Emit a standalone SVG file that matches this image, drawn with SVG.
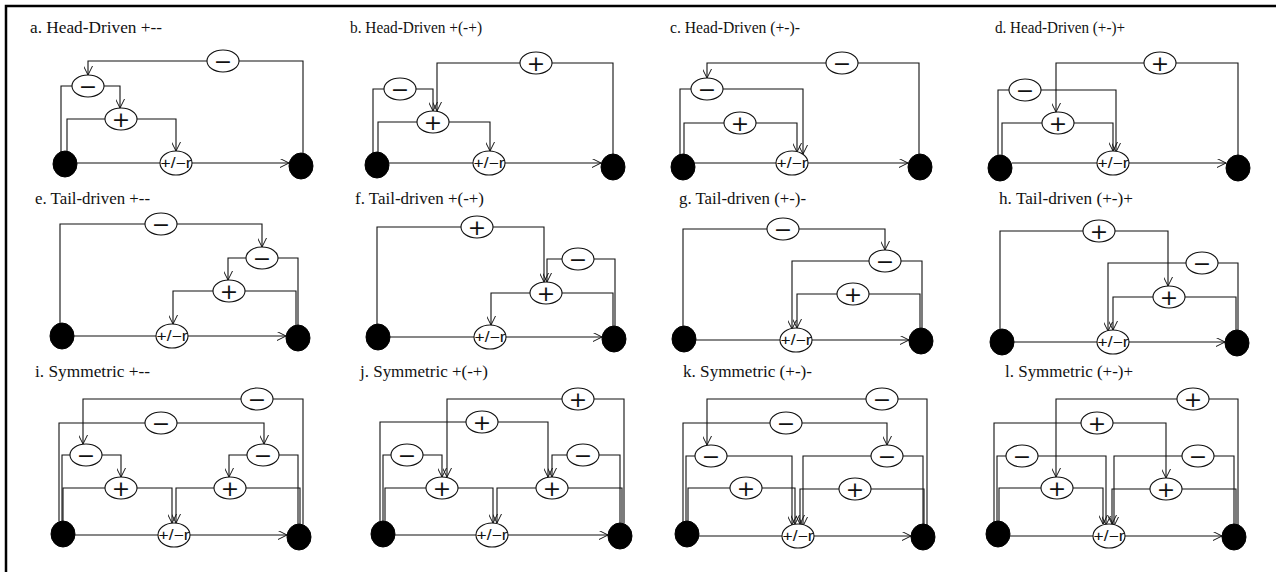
<svg xmlns="http://www.w3.org/2000/svg" width="1276" height="572" viewBox="0 0 1276 572">
<style>
.ln{fill:none;stroke:#111;stroke-width:1.1}
.ar{marker-end:url(#arr)}
.op{fill:#fff;stroke:#111;stroke-width:1.1}
.blk{fill:#000;stroke:#000}
.sym{font-family:"DejaVu Sans",sans-serif;font-size:22px;text-anchor:middle;fill:#111}
.mt{font-family:"Liberation Sans",sans-serif;font-size:14px;text-anchor:middle;fill:#111}
.tt{font-family:"Liberation Serif",serif;font-size:16px;fill:#111}
</style>
<defs>
<marker id="arr" viewBox="0 0 10 10" refX="10" refY="5" markerWidth="9" markerHeight="9" markerUnits="userSpaceOnUse" orient="auto">
<path d="M0,0 L10,5 L0,10" fill="none" stroke="#111" stroke-width="1.1"/>
</marker>
</defs>
<rect x="6" y="6" width="1290" height="590" fill="none" stroke="#000" stroke-width="2.5"/>

<g id="titles">
<text class="tt" x="30" y="33" textLength="132" lengthAdjust="spacingAndGlyphs">a. Head-Driven +--</text>
<text class="tt" x="350" y="33" textLength="132" lengthAdjust="spacingAndGlyphs">b. Head-Driven +(-+)</text>
<text class="tt" x="670" y="33" textLength="130" lengthAdjust="spacingAndGlyphs">c. Head-Driven (+-)-</text>
<text class="tt" x="995" y="33" textLength="130" lengthAdjust="spacingAndGlyphs">d. Head-Driven (+-)+</text>
<text class="tt" x="35" y="204" textLength="115" lengthAdjust="spacingAndGlyphs">e. Tail-driven +--</text>
<text class="tt" x="355" y="204" textLength="129" lengthAdjust="spacingAndGlyphs">f. Tail-driven +(-+)</text>
<text class="tt" x="679" y="204" textLength="127" lengthAdjust="spacingAndGlyphs">g. Tail-driven (+-)-</text>
<text class="tt" x="999" y="204" textLength="134" lengthAdjust="spacingAndGlyphs">h. Tail-driven (+-)+</text>
<text class="tt" x="35" y="377" textLength="115" lengthAdjust="spacingAndGlyphs">i. Symmetric +--</text>
<text class="tt" x="360" y="377" textLength="128" lengthAdjust="spacingAndGlyphs">j. Symmetric +(-+)</text>
<text class="tt" x="683" y="377" textLength="129" lengthAdjust="spacingAndGlyphs">k. Symmetric (+-)-</text>
<text class="tt" x="1005" y="377" textLength="128" lengthAdjust="spacingAndGlyphs">l. Symmetric (+-)+</text>
</g>

<g id="connectors">
<!-- a -->
<path class="ln" d="M303,153 V61 H239"/><path class="ln ar" d="M207,61 H88 V75"/>
<path class="ln" d="M72,86 H61 V152"/><path class="ln ar" d="M104,86 H120 V108"/>
<path class="ln" d="M105,119 H67 V152"/><path class="ln ar" d="M137,119 H176 V151"/>
<path class="ln" d="M77,163 H160"/><path class="ln ar" d="M192,163 H289"/>
<!-- b -->
<path class="ln" d="M613,154 V63 H552"/><path class="ln ar" d="M520,63 H437 V111"/>
<path class="ln" d="M384,89 H373 V153"/><path class="ln ar" d="M416,89 H433 V111"/>
<path class="ln" d="M417,122 H378 V153"/><path class="ln ar" d="M449,122 H490 V151"/>
<path class="ln" d="M389,163 H473"/><path class="ln ar" d="M505,163 H601"/>
<!-- c -->
<path class="ln" d="M919,154 V63 H858"/><path class="ln ar" d="M826,63 H707 V78"/>
<path class="ln" d="M691,89 H680 V155"/><path class="ln ar" d="M723,89 H803 V154"/>
<path class="ln" d="M724,123 H684 V155"/><path class="ln ar" d="M756,123 H797 V152"/>
<path class="ln" d="M695,163 H776"/><path class="ln ar" d="M808,163 H908"/>
<!-- d -->
<path class="ln" d="M1238,155 V63 H1176"/><path class="ln ar" d="M1144,63 H1056 V112"/>
<path class="ln" d="M1009,90 H998 V156"/><path class="ln ar" d="M1041,90 H1116 V152"/>
<path class="ln" d="M1042,123 H1002 V156"/><path class="ln ar" d="M1074,123 H1113 V151"/>
<path class="ln" d="M1012,163 H1097"/><path class="ln ar" d="M1129,163 H1226"/>
<!-- e -->
<path class="ln" d="M60,324 V224 H145"/><path class="ln ar" d="M177,224 H262 V247"/>
<path class="ln" d="M278,258 H298 V325"/><path class="ln ar" d="M246,258 H228 V280"/>
<path class="ln" d="M245,291 H296 V325"/><path class="ln ar" d="M213,291 H173 V324"/>
<path class="ln" d="M74,336 H156"/><path class="ln ar" d="M188,336 H286"/>
<!-- f -->
<path class="ln" d="M377,324 V227 H461"/><path class="ln ar" d="M493,227 H544 V282"/>
<path class="ln" d="M594,259 H615 V326"/><path class="ln ar" d="M562,259 H547 V282"/>
<path class="ln" d="M562,293 H613 V326"/><path class="ln ar" d="M530,293 H491 V325"/>
<path class="ln" d="M390,337 H474"/><path class="ln ar" d="M506,337 H602"/>
<!-- g -->
<path class="ln" d="M683,326 V229 H767"/><path class="ln ar" d="M799,229 H885 V250"/>
<path class="ln" d="M901,261 H922 V328"/><path class="ln ar" d="M869,261 H792 V329"/>
<path class="ln" d="M869,294 H920 V328"/><path class="ln ar" d="M837,294 H797 V328"/>
<path class="ln" d="M696,340 H780"/><path class="ln ar" d="M812,340 H909"/>
<!-- h -->
<path class="ln" d="M1000,329 V231 H1083"/><path class="ln ar" d="M1115,231 H1168 V286"/>
<path class="ln" d="M1218,263 H1238 V330"/><path class="ln ar" d="M1186,263 H1108 V331"/>
<path class="ln" d="M1185,297 H1236 V330"/><path class="ln ar" d="M1153,297 H1113 V330"/>
<path class="ln" d="M1014,342 H1097"/><path class="ln ar" d="M1129,342 H1225"/>
<!-- i -->
<path class="ln" d="M303,524 V399 H273"/><path class="ln ar" d="M241,399 H83 V444"/>
<path class="ln" d="M59,521 V423 H145"/><path class="ln ar" d="M177,423 H264 V444"/>
<path class="ln" d="M70,455 H62 V521"/><path class="ln ar" d="M102,455 H121 V477"/>
<path class="ln" d="M105,488 H63 V521"/><path class="ln ar" d="M137,488 H172 V523"/>
<path class="ln" d="M279,455 H298 V524"/><path class="ln ar" d="M247,455 H229 V477"/>
<path class="ln" d="M246,488 H300 V524"/><path class="ln ar" d="M214,488 H176 V523"/>
<path class="ln" d="M75,535 H158"/><path class="ln ar" d="M190,535 H287"/>
<!-- j -->
<path class="ln" d="M624,523 V399 H594"/><path class="ln ar" d="M562,399 H447 V477"/>
<path class="ln" d="M380,521 V422 H466"/><path class="ln ar" d="M498,422 H548 V477"/>
<path class="ln" d="M391,455 H383 V521"/><path class="ln ar" d="M423,455 H442 V477"/>
<path class="ln" d="M426,488 H385 V521"/><path class="ln ar" d="M458,488 H493 V523"/>
<path class="ln" d="M599,455 H620 V523"/><path class="ln ar" d="M567,455 H552 V477"/>
<path class="ln" d="M568,488 H622 V523"/><path class="ln ar" d="M536,488 H497 V523"/>
<path class="ln" d="M395,535 H476"/><path class="ln ar" d="M508,535 H608"/>
<!-- k -->
<path class="ln" d="M927,525 V399 H898"/><path class="ln ar" d="M866,399 H707 V445"/>
<path class="ln" d="M683,522 V423 H770"/><path class="ln ar" d="M802,423 H887 V445"/>
<path class="ln" d="M695,456 H686 V522"/><path class="ln ar" d="M727,456 H792 V525"/>
<path class="ln" d="M730,488 H688 V522"/><path class="ln ar" d="M762,488 H795 V524"/>
<path class="ln" d="M903,456 H923 V525"/><path class="ln ar" d="M871,456 H803 V526"/>
<path class="ln" d="M871,489 H924 V525"/><path class="ln ar" d="M839,489 H800 V524"/>
<path class="ln" d="M699,536 H782"/><path class="ln ar" d="M814,536 H911"/>
<!-- l -->
<path class="ln" d="M1238,525 V399 H1209"/><path class="ln ar" d="M1177,399 H1056 V477"/>
<path class="ln" d="M994,522 V423 H1081"/><path class="ln ar" d="M1113,423 H1166 V478"/>
<path class="ln" d="M1006,456 H997 V522"/><path class="ln ar" d="M1038,456 H1106 V525"/>
<path class="ln" d="M1041,488 H999 V522"/><path class="ln ar" d="M1073,488 H1103 V524"/>
<path class="ln" d="M1214,456 H1234 V525"/><path class="ln ar" d="M1182,456 H1114 V526"/>
<path class="ln" d="M1182,489 H1236 V525"/><path class="ln ar" d="M1150,489 H1112 V524"/>
<path class="ln" d="M1010,536 H1093"/><path class="ln ar" d="M1125,536 H1222"/>
</g>

<!-- panel a -->
<g id="a-L"><ellipse class="blk" cx="65" cy="164" rx="12" ry="13"/></g>
<g id="a-R"><ellipse class="blk" cx="301" cy="166" rx="12" ry="13"/></g>
<g id="a-M"><ellipse class="op" cx="176" cy="163" rx="16" ry="12"/><text class="mt" x="176" y="168" textLength="31" lengthAdjust="spacingAndGlyphs">+/−r</text></g>
<g id="a-n1"><ellipse class="op" cx="223" cy="61" rx="16" ry="11"/><text class="sym" x="223" y="68.5">−</text></g>
<g id="a-n2"><ellipse class="op" cx="88" cy="86" rx="16" ry="11"/><text class="sym" x="88" y="93.5">−</text></g>
<g id="a-n3"><ellipse class="op" cx="121" cy="119" rx="16" ry="11"/><text class="sym" x="121" y="126.5">+</text></g>
<!-- panel b -->
<g id="b-L"><ellipse class="blk" cx="377" cy="165" rx="12" ry="13"/></g>
<g id="b-R"><ellipse class="blk" cx="613" cy="167" rx="12" ry="13"/></g>
<g id="b-M"><ellipse class="op" cx="489" cy="163" rx="16" ry="12"/><text class="mt" x="489" y="168" textLength="31" lengthAdjust="spacingAndGlyphs">+/−r</text></g>
<g id="b-n1"><ellipse class="op" cx="536" cy="63" rx="16" ry="11"/><text class="sym" x="536" y="70.5">+</text></g>
<g id="b-n2"><ellipse class="op" cx="400" cy="89" rx="16" ry="11"/><text class="sym" x="400" y="96.5">−</text></g>
<g id="b-n3"><ellipse class="op" cx="433" cy="122" rx="16" ry="11"/><text class="sym" x="433" y="129.5">+</text></g>
<!-- panel c -->
<g id="c-L"><ellipse class="blk" cx="683" cy="167" rx="12" ry="13"/></g>
<g id="c-R"><ellipse class="blk" cx="920" cy="167" rx="12" ry="13"/></g>
<g id="c-M"><ellipse class="op" cx="792" cy="163" rx="16" ry="12"/><text class="mt" x="792" y="168" textLength="31" lengthAdjust="spacingAndGlyphs">+/−r</text></g>
<g id="c-n1"><ellipse class="op" cx="842" cy="63" rx="16" ry="11"/><text class="sym" x="842" y="70.5">−</text></g>
<g id="c-n2"><ellipse class="op" cx="707" cy="89" rx="16" ry="11"/><text class="sym" x="707" y="96.5">−</text></g>
<g id="c-n3"><ellipse class="op" cx="740" cy="123" rx="16" ry="11"/><text class="sym" x="740" y="130.5">+</text></g>
<!-- panel d -->
<g id="d-L"><ellipse class="blk" cx="1000" cy="168" rx="12" ry="13"/></g>
<g id="d-R"><ellipse class="blk" cx="1238" cy="168" rx="12" ry="13"/></g>
<g id="d-M"><ellipse class="op" cx="1113" cy="163" rx="16" ry="12"/><text class="mt" x="1113" y="168" textLength="31" lengthAdjust="spacingAndGlyphs">+/−r</text></g>
<g id="d-n1"><ellipse class="op" cx="1160" cy="63" rx="16" ry="11"/><text class="sym" x="1160" y="70.5">+</text></g>
<g id="d-n2"><ellipse class="op" cx="1025" cy="90" rx="16" ry="11"/><text class="sym" x="1025" y="97.5">−</text></g>
<g id="d-n3"><ellipse class="op" cx="1058" cy="123" rx="16" ry="11"/><text class="sym" x="1058" y="130.5">+</text></g>
<!-- panel e -->
<g id="e-L"><ellipse class="blk" cx="62" cy="336" rx="12" ry="13"/></g>
<g id="e-R"><ellipse class="blk" cx="298" cy="338" rx="12" ry="13"/></g>
<g id="e-M"><ellipse class="op" cx="172" cy="336" rx="16" ry="12"/><text class="mt" x="172" y="341" textLength="31" lengthAdjust="spacingAndGlyphs">+/−r</text></g>
<g id="e-n1"><ellipse class="op" cx="161" cy="224" rx="16" ry="11"/><text class="sym" x="161" y="231.5">−</text></g>
<g id="e-n2"><ellipse class="op" cx="262" cy="258" rx="16" ry="11"/><text class="sym" x="262" y="265.5">−</text></g>
<g id="e-n3"><ellipse class="op" cx="229" cy="291" rx="16" ry="11"/><text class="sym" x="229" y="298.5">+</text></g>
<!-- panel f -->
<g id="f-L"><ellipse class="blk" cx="378" cy="337" rx="12" ry="13"/></g>
<g id="f-R"><ellipse class="blk" cx="614" cy="339" rx="12" ry="13"/></g>
<g id="f-M"><ellipse class="op" cx="490" cy="337" rx="16" ry="12"/><text class="mt" x="490" y="342" textLength="31" lengthAdjust="spacingAndGlyphs">+/−r</text></g>
<g id="f-n1"><ellipse class="op" cx="477" cy="227" rx="16" ry="11"/><text class="sym" x="477" y="234.5">+</text></g>
<g id="f-n2"><ellipse class="op" cx="578" cy="259" rx="16" ry="11"/><text class="sym" x="578" y="266.5">−</text></g>
<g id="f-n3"><ellipse class="op" cx="546" cy="293" rx="16" ry="11"/><text class="sym" x="546" y="300.5">+</text></g>
<!-- panel g -->
<g id="g-L"><ellipse class="blk" cx="684" cy="339" rx="12" ry="13"/></g>
<g id="g-R"><ellipse class="blk" cx="921" cy="341" rx="12" ry="13"/></g>
<g id="g-M"><ellipse class="op" cx="796" cy="340" rx="16" ry="12"/><text class="mt" x="796" y="345" textLength="31" lengthAdjust="spacingAndGlyphs">+/−r</text></g>
<g id="g-n1"><ellipse class="op" cx="783" cy="229" rx="16" ry="11"/><text class="sym" x="783" y="236.5">−</text></g>
<g id="g-n2"><ellipse class="op" cx="885" cy="261" rx="16" ry="11"/><text class="sym" x="885" y="268.5">−</text></g>
<g id="g-n3"><ellipse class="op" cx="853" cy="294" rx="16" ry="11"/><text class="sym" x="853" y="301.5">+</text></g>
<!-- panel h -->
<g id="h-L"><ellipse class="blk" cx="1002" cy="342" rx="12" ry="13"/></g>
<g id="h-R"><ellipse class="blk" cx="1237" cy="343" rx="12" ry="13"/></g>
<g id="h-M"><ellipse class="op" cx="1113" cy="342" rx="16" ry="12"/><text class="mt" x="1113" y="347" textLength="31" lengthAdjust="spacingAndGlyphs">+/−r</text></g>
<g id="h-n1"><ellipse class="op" cx="1099" cy="231" rx="16" ry="11"/><text class="sym" x="1099" y="238.5">+</text></g>
<g id="h-n2"><ellipse class="op" cx="1202" cy="263" rx="16" ry="11"/><text class="sym" x="1202" y="270.5">−</text></g>
<g id="h-n3"><ellipse class="op" cx="1169" cy="297" rx="16" ry="11"/><text class="sym" x="1169" y="304.5">+</text></g>
<!-- panel i -->
<g id="i-L"><ellipse class="blk" cx="63" cy="534" rx="12" ry="13"/></g>
<g id="i-R"><ellipse class="blk" cx="299" cy="537" rx="12" ry="13"/></g>
<g id="i-M"><ellipse class="op" cx="174" cy="535" rx="16" ry="12"/><text class="mt" x="174" y="540" textLength="31" lengthAdjust="spacingAndGlyphs">+/−r</text></g>
<g id="i-t1"><ellipse class="op" cx="257" cy="399" rx="16" ry="11"/><text class="sym" x="257" y="406.5">−</text></g>
<g id="i-t2"><ellipse class="op" cx="161" cy="423" rx="16" ry="11"/><text class="sym" x="161" y="430.5">−</text></g>
<g id="i-ln"><ellipse class="op" cx="86" cy="455" rx="16" ry="11"/><text class="sym" x="86" y="462.5">−</text></g>
<g id="i-lp"><ellipse class="op" cx="121" cy="488" rx="16" ry="11"/><text class="sym" x="121" y="495.5">+</text></g>
<g id="i-rn"><ellipse class="op" cx="263" cy="455" rx="16" ry="11"/><text class="sym" x="263" y="462.5">−</text></g>
<g id="i-rp"><ellipse class="op" cx="230" cy="488" rx="16" ry="11"/><text class="sym" x="230" y="495.5">+</text></g>
<!-- panel j -->
<g id="j-L"><ellipse class="blk" cx="383" cy="534" rx="12" ry="13"/></g>
<g id="j-R"><ellipse class="blk" cx="620" cy="536" rx="12" ry="13"/></g>
<g id="j-M"><ellipse class="op" cx="492" cy="535" rx="16" ry="12"/><text class="mt" x="492" y="540" textLength="31" lengthAdjust="spacingAndGlyphs">+/−r</text></g>
<g id="j-t1"><ellipse class="op" cx="578" cy="399" rx="16" ry="11"/><text class="sym" x="578" y="406.5">+</text></g>
<g id="j-t2"><ellipse class="op" cx="482" cy="422" rx="16" ry="11"/><text class="sym" x="482" y="429.5">+</text></g>
<g id="j-ln"><ellipse class="op" cx="407" cy="455" rx="16" ry="11"/><text class="sym" x="407" y="462.5">−</text></g>
<g id="j-lp"><ellipse class="op" cx="442" cy="488" rx="16" ry="11"/><text class="sym" x="442" y="495.5">+</text></g>
<g id="j-rn"><ellipse class="op" cx="583" cy="455" rx="16" ry="11"/><text class="sym" x="583" y="462.5">−</text></g>
<g id="j-rp"><ellipse class="op" cx="552" cy="488" rx="16" ry="11"/><text class="sym" x="552" y="495.5">+</text></g>
<!-- panel k -->
<g id="k-L"><ellipse class="blk" cx="687" cy="534" rx="12" ry="13"/></g>
<g id="k-R"><ellipse class="blk" cx="923" cy="537" rx="12" ry="13"/></g>
<g id="k-M"><ellipse class="op" cx="798" cy="536" rx="16" ry="12"/><text class="mt" x="798" y="541" textLength="31" lengthAdjust="spacingAndGlyphs">+/−r</text></g>
<g id="k-t1"><ellipse class="op" cx="882" cy="399" rx="16" ry="11"/><text class="sym" x="882" y="406.5">−</text></g>
<g id="k-t2"><ellipse class="op" cx="786" cy="423" rx="16" ry="11"/><text class="sym" x="786" y="430.5">−</text></g>
<g id="k-ln"><ellipse class="op" cx="711" cy="456" rx="16" ry="11"/><text class="sym" x="711" y="463.5">−</text></g>
<g id="k-lp"><ellipse class="op" cx="746" cy="488" rx="16" ry="11"/><text class="sym" x="746" y="495.5">+</text></g>
<g id="k-rn"><ellipse class="op" cx="887" cy="456" rx="16" ry="11"/><text class="sym" x="887" y="463.5">−</text></g>
<g id="k-rp"><ellipse class="op" cx="855" cy="489" rx="16" ry="11"/><text class="sym" x="855" y="496.5">+</text></g>
<!-- panel l -->
<g id="l-L"><ellipse class="blk" cx="998" cy="534" rx="12" ry="13"/></g>
<g id="l-R"><ellipse class="blk" cx="1234" cy="537" rx="12" ry="13"/></g>
<g id="l-M"><ellipse class="op" cx="1109" cy="536" rx="16" ry="12"/><text class="mt" x="1109" y="541" textLength="31" lengthAdjust="spacingAndGlyphs">+/−r</text></g>
<g id="l-t1"><ellipse class="op" cx="1193" cy="399" rx="16" ry="11"/><text class="sym" x="1193" y="406.5">+</text></g>
<g id="l-t2"><ellipse class="op" cx="1097" cy="423" rx="16" ry="11"/><text class="sym" x="1097" y="430.5">+</text></g>
<g id="l-ln"><ellipse class="op" cx="1022" cy="456" rx="16" ry="11"/><text class="sym" x="1022" y="463.5">−</text></g>
<g id="l-lp"><ellipse class="op" cx="1057" cy="488" rx="16" ry="11"/><text class="sym" x="1057" y="495.5">+</text></g>
<g id="l-rn"><ellipse class="op" cx="1198" cy="456" rx="16" ry="11"/><text class="sym" x="1198" y="463.5">−</text></g>
<g id="l-rp"><ellipse class="op" cx="1166" cy="489" rx="16" ry="11"/><text class="sym" x="1166" y="496.5">+</text></g>
</svg>
